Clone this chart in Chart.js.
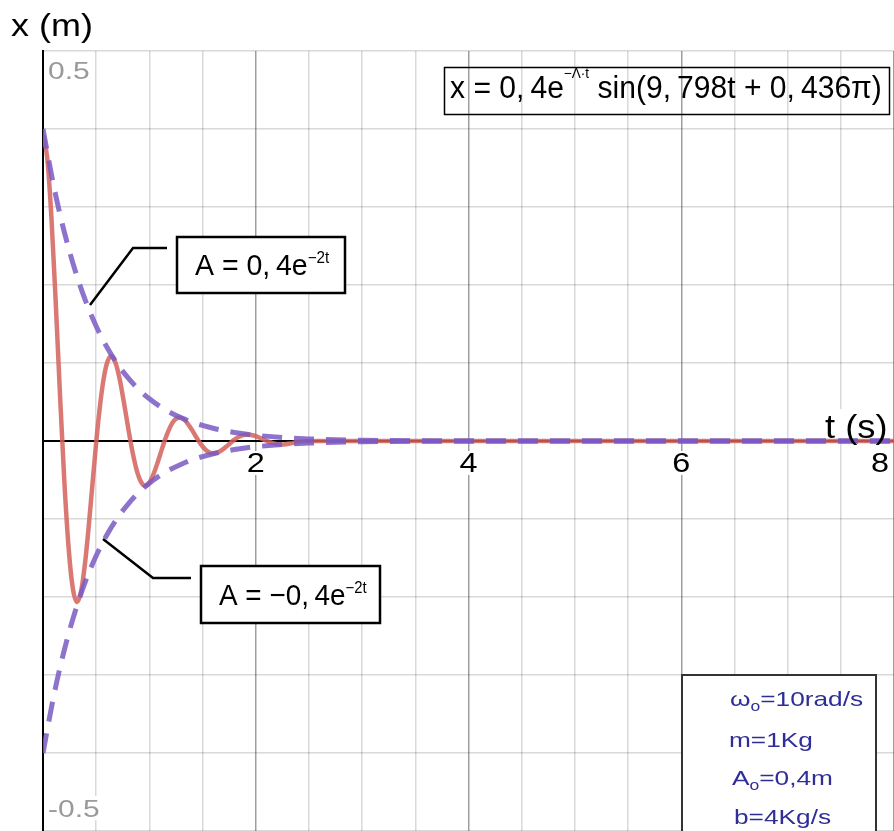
<!DOCTYPE html>
<html>
<head>
<meta charset="utf-8">
<script src="https://cdn.jsdelivr.net/npm/chart.js@4.4.1/dist/chart.umd.min.js"></script>
<style>
  html, body { margin: 0; padding: 0; background: #fff; overflow: hidden; }
  canvas { display: block; }
</style>
</head>
<body>
<canvas id="chart" width="894" height="831"></canvas>
<script>
// damped oscillation x(t)
const T_CURVE = [0, 0.04, 0.08, 0.12, 0.16, 0.2, 0.24, 0.28, 0.32, 0.36, 0.4, 0.44, 0.48, 0.52, 0.56, 0.6,
  0.64, 0.68, 0.72, 0.76, 0.8, 0.84, 0.88, 0.92, 0.96, 1, 1.04, 1.08, 1.12, 1.16, 1.2, 1.24, 1.28, 1.32,
  1.36, 1.4, 1.44, 1.48, 1.52, 1.56, 1.6, 1.64, 1.68, 1.72, 1.76, 1.8, 1.84, 1.88, 1.92, 1.96, 2, 2.04,
  2.08, 2.12, 2.16, 2.2, 2.24, 2.28, 2.32, 2.36, 2.4, 2.6, 3, 4, 5, 6, 7, 8];
const X_CURVE = [0.392, 0.3625, 0.2846, 0.1767, 0.0589, -0.05, -0.1356, -0.1887, -0.2064, -0.1914, -0.1507,
  -0.094, -0.032, 0.0255, 0.0708, 0.0991, 0.1087, 0.101, 0.0798, 0.05, 0.0174, -0.013, -0.037, -0.052,
  -0.0572, -0.0533, -0.0422, -0.0266, -0.0094, 0.0066, 0.0193, 0.0273, 0.0301, 0.0282, 0.0224, 0.0142,
  0.0051, -0.0034, -0.0101, -0.0143, -0.0159, -0.0149, -0.0118, -0.0075, -0.0028, 0.0017, 0.0053, 0.0075,
  0.0084, 0.0078, 0.0063, 0.004, 0.0015, -0.0009, -0.0028, -0.004, -0.0044, -0.0041, -0.0033, -0.0021,
  -0.0008, 0, 0, 0, 0, 0, 0, 0];

// envelopes A = ±0,4e^-2t
const T_ENV = [0, 0.1, 0.2, 0.3, 0.4, 0.5, 0.6, 0.7, 0.8, 0.9, 1, 1.1, 1.2, 1.3, 1.4, 1.5, 1.6, 1.7, 1.8, 1.9, 2,
  2.5, 3, 4, 5, 6, 7, 8];
const A_UPPER = [0.4, 0.3275, 0.2681, 0.2195, 0.1797, 0.1472, 0.1205, 0.0986, 0.0808, 0.0661, 0.0541, 0.0443,
  0.0363, 0.0297, 0.0243, 0.0199, 0.0163, 0.0133, 0.0109, 0.0089, 0.0073, 0.0027, 0.001, 0, 0, 0, 0, 0];
const A_LOWER = [-0.4, -0.3275, -0.2681, -0.2195, -0.1797, -0.1472, -0.1205, -0.0986, -0.0808, -0.0661, -0.0541,
  -0.0443, -0.0363, -0.0297, -0.0243, -0.0199, -0.0163, -0.0133, -0.0109, -0.0089, -0.0073, -0.0027, -0.001,
  0, 0, 0, 0, 0];

const X_TICK_LABELS = [2, 4, 6, 8];
const Y_TICK_LABELS = ["0.5", "-0.5"];
const PARAMS = [
  [["ω", 0], ["o", 1], ["=10rad/s", 0]],
  [["m=1Kg", 0]],
  [["A", 0], ["o", 1], ["=0,4m", 0]],
  [["b=4Kg/s", 0]],
];

const FONT = '"Liberation Sans", Arial, sans-serif';
const pts = (xs, ys) => xs.map((x, i) => ({ x, y: ys[i] }));

function rich(ctx, parts, x, y, sx) {
  ctx.save();
  ctx.translate(x, y);
  ctx.scale(sx || 1, 1);
  let cx = 0;
  parts.forEach((p) => {
    ctx.font = p.size + "px " + FONT;
    ctx.fillText(p.t, cx, p.dy || 0);
    cx += ctx.measureText(p.t).width;
  });
  ctx.restore();
  return cx * (sx || 1);
}

function textWidth(ctx, t, size, sx) {
  ctx.font = size + "px " + FONT;
  return ctx.measureText(t).width * sx;
}

const labelBg = {
  id: "labelBg",
  beforeDatasetsDraw(chart) {
    const ctx = chart.ctx, xs = chart.scales.x;
    ctx.save();
    ctx.fillStyle = "#fff";
    X_TICK_LABELS.forEach((v) => {
      const w = textWidth(ctx, String(v), 27, 1.2);
      let cx = xs.getPixelForValue(v);
      if (cx + w / 2 > chart.width - 4) cx = chart.width - 5 - w / 2;
      ctx.fillRect(cx - w / 2 - 2, 451, w + 4, 24);
    });
    ctx.fillRect(46, 796, 58, 24);
    ctx.fillRect(824, 409, 68, 29);
    ctx.restore();
  },
};

const overlay = {
  id: "overlay",
  afterDraw(chart) {
    const ctx = chart.ctx, xs = chart.scales.x, ys = chart.scales.y;
    ctx.save();
    ctx.textBaseline = "alphabetic";
    ctx.fillStyle = "#000";

    // axis titles
    rich(ctx, [{ t: "x (m)", size: 31 }], 11, 36, 1.16);
    rich(ctx, [{ t: "t (s)", size: 33 }], 825, 438, 1.1);

    // x tick labels
    X_TICK_LABELS.forEach((v) => {
      const w = textWidth(ctx, String(v), 27, 1.2);
      let cx = xs.getPixelForValue(v);
      if (cx + w / 2 > chart.width - 4) cx = chart.width - 5 - w / 2;
      rich(ctx, [{ t: String(v), size: 27 }], cx - w / 2, 472, 1.2);
    });

    // y end labels
    ctx.fillStyle = "#9a9a9a";
    rich(ctx, [{ t: Y_TICK_LABELS[0], size: 24 }], 48, ys.getPixelForValue(0.5) + 28, 1.25);
    rich(ctx, [{ t: Y_TICK_LABELS[1], size: 24 }], 48, ys.getPixelForValue(-0.5) - 14, 1.25);

    // formula box
    ctx.fillStyle = "#000";
    ctx.strokeStyle = "#000";
    ctx.lineWidth = 1.5;
    ctx.strokeRect(444.5, 67.5, 445, 47);
    rich(ctx, [
      { t: "x = 0,\u20094e", size: 31 },
      { t: "−Λ·t", size: 14, dy: -20 },
      { t: " sin(9,\u2009798t + 0,\u2009436π)", size: 31 },
    ], 450, 98, 0.97);

    // leader lines
    ctx.lineWidth = 2.5;
    ctx.beginPath();
    ctx.moveTo(90, 305); ctx.lineTo(133, 248); ctx.lineTo(167, 248);
    ctx.moveTo(103, 539); ctx.lineTo(153, 578); ctx.lineTo(191, 578);
    ctx.stroke();

    // amplitude boxes
    ctx.fillStyle = "#fff";
    ctx.fillRect(177, 237, 168, 56);
    ctx.strokeRect(177, 237, 168, 56);
    ctx.fillRect(201, 566, 179, 57);
    ctx.strokeRect(201, 566, 179, 57);
    ctx.fillStyle = "#000";
    rich(ctx, [{ t: "A = 0,\u20094e", size: 30 }, { t: "−2t", size: 16, dy: -12 }], 195, 275, 0.95);
    rich(ctx, [{ t: "A = −0,\u20094e", size: 30 }, { t: "−2t", size: 16, dy: -12 }], 219, 605, 0.93);

    // parameters box
    ctx.fillStyle = "#fff";
    ctx.fillRect(682, 675, 194, 170);
    ctx.strokeStyle = "#333";
    ctx.lineWidth = 2;
    ctx.strokeRect(682, 675, 194, 170);
    ctx.fillStyle = "#2e2e96";
    const rows = [[730, 706], [729, 747], [732, 785], [734, 824]];
    PARAMS.forEach((line, i) => {
      rich(ctx, line.map(([t, sub]) => sub ? { t, size: 14, dy: 5 } : { t, size: 21 }), rows[i][0], rows[i][1], 1.25);
    });
    ctx.restore();
  },
};

new Chart(document.getElementById("chart"), {
  type: "line",
  data: {
    datasets: [
      { label: "x", data: pts(T_CURVE, X_CURVE), borderColor: "rgba(212,98,92,0.85)", borderWidth: 4.5, pointRadius: 0,
        cubicInterpolationMode: "monotone", order: 2 },
      { label: "A+", data: pts(T_ENV, A_UPPER), borderColor: "rgba(122,90,196,0.85)", borderWidth: 5, borderDash: [20, 12],
        pointRadius: 0, cubicInterpolationMode: "monotone", order: 1 },
      { label: "A-", data: pts(T_ENV, A_LOWER), borderColor: "rgba(122,90,196,0.85)", borderWidth: 5, borderDash: [20, 12],
        pointRadius: 0, cubicInterpolationMode: "monotone", order: 1 },
    ],
  },
  options: {
    responsive: false,
    devicePixelRatio: 1,
    animation: false,
    layout: { padding: { left: 43, top: 51, right: 0, bottom: 0 } },
    plugins: { legend: { display: false }, tooltip: { enabled: false } },
    scales: {
      x: {
        type: "linear", min: 0, max: 8, position: { y: 0 },
        ticks: { display: false, stepSize: 0.5 },
        grid: {
          drawTicks: false, lineWidth: 1.5,
          color: (c) => (c.tick && c.tick.value % 2 === 0 ? "rgba(0,0,0,0.38)" : "rgba(0,0,0,0.15)"),
        },
        border: { color: "#000", width: 2 },
      },
      y: {
        type: "linear", min: -0.5, max: 0.5, position: { x: 0 },
        ticks: { display: false, stepSize: 0.1 },
        grid: { drawTicks: false, lineWidth: 1.5, color: "rgba(0,0,0,0.15)" },
        border: { color: "#000", width: 2 },
      },
    },
  },
  plugins: [labelBg, overlay],
});
</script>
</body>
</html>
